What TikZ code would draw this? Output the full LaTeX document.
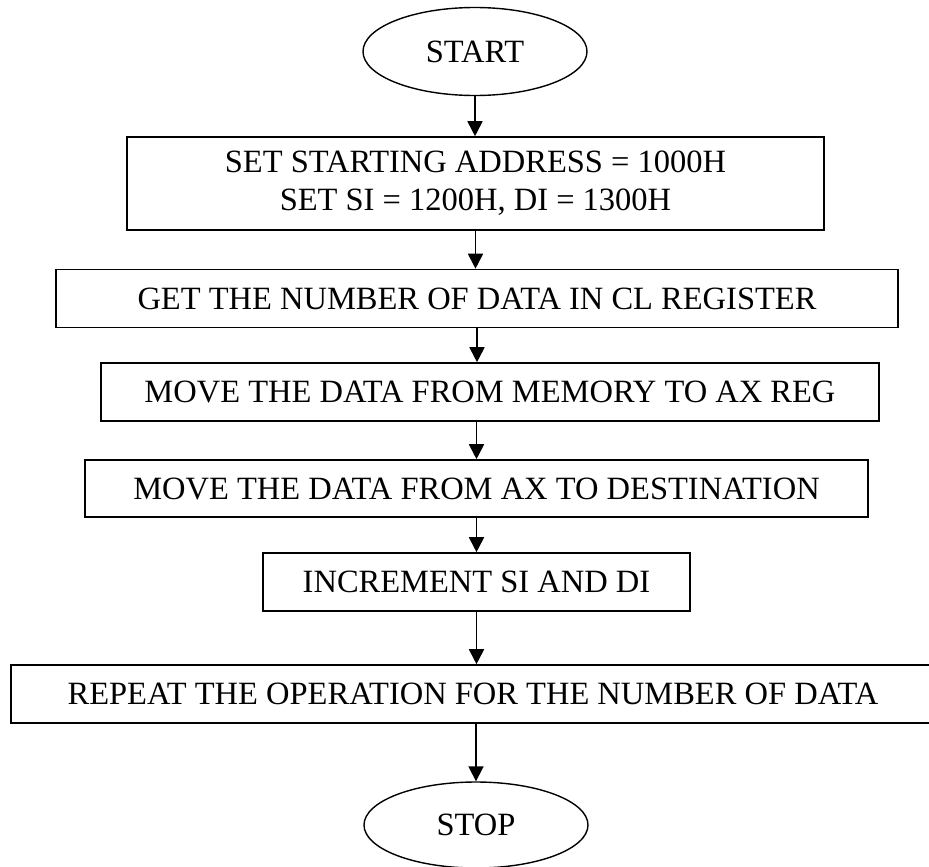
\documentclass[tikz,border=0pt]{standalone}
\usepackage{fontspec}
\setmainfont{Liberation Serif}
\usepackage{tikz}
\usetikzlibrary{arrows.meta, shapes.geometric, positioning, calc}

\tikzset{
	terminal/.style={draw, ellipse, line width=1.4pt, inner sep=0pt,
		minimum width=224pt, minimum height=88pt},
	stepbox/.style={draw, rectangle, line width=1.6pt, inner sep=0pt,
		align=center, minimum height=58pt},
	flowarrow/.style={line width=1.8pt, -{Triangle[length=15pt,width=15pt]}}
}

\begin{document}
\begin{tikzpicture}[x=1pt, y=-1pt, font=\fontsize{32.5}{38}\selectfont]
				\useasboundingbox (0,0) rectangle (929,867);
				\node[terminal] (start) at (475,51.5) {START};
				\node[stepbox, minimum width=697pt, minimum height=93pt] (setaddr) at (475.5,183.5)
					{SET STARTING ADDRESS = 1000H\\ SET SI = 1200H, DI = 1300H};
				\node[stepbox, minimum width=842pt] (getcount) at (477,298.5)
					{GET THE NUMBER OF DATA IN CL REGISTER};
				\node[stepbox, minimum width=778pt] (loadax) at (490,392)
					{MOVE THE DATA FROM MEMORY TO AX REG};
				\node[stepbox, minimum width=783pt, minimum height=57pt] (storeax) at (476.5,488.5)
					{MOVE THE DATA FROM AX TO DESTINATION};
				\node[stepbox, minimum width=427pt] (incr) at (476.5,582)
					{INCREMENT SI AND DI};
				\node[stepbox, minimum width=924pt] (repeat) at (473,694)
					{REPEAT THE OPERATION FOR THE NUMBER OF DATA};
				\node[terminal, minimum height=86pt] (stop) at (476,825) {STOP};
				% connectors
				\draw[flowarrow] (start.south) -- (start.south |- setaddr.north);
				\draw[flowarrow] (setaddr.south) -- (setaddr.south |- getcount.north);
				\draw[flowarrow] (getcount.south) -- (getcount.south |- loadax.north);
				\draw[flowarrow] (storeax.north |- loadax.south) -- (storeax.north);
				\draw[flowarrow] (storeax.south) -- (storeax.south |- incr.north);
				\draw[flowarrow] (incr.south) -- (incr.south |- repeat.north);
				\draw[flowarrow] (stop.north |- repeat.south) -- (stop.north);
			\end{tikzpicture}
\end{document}
